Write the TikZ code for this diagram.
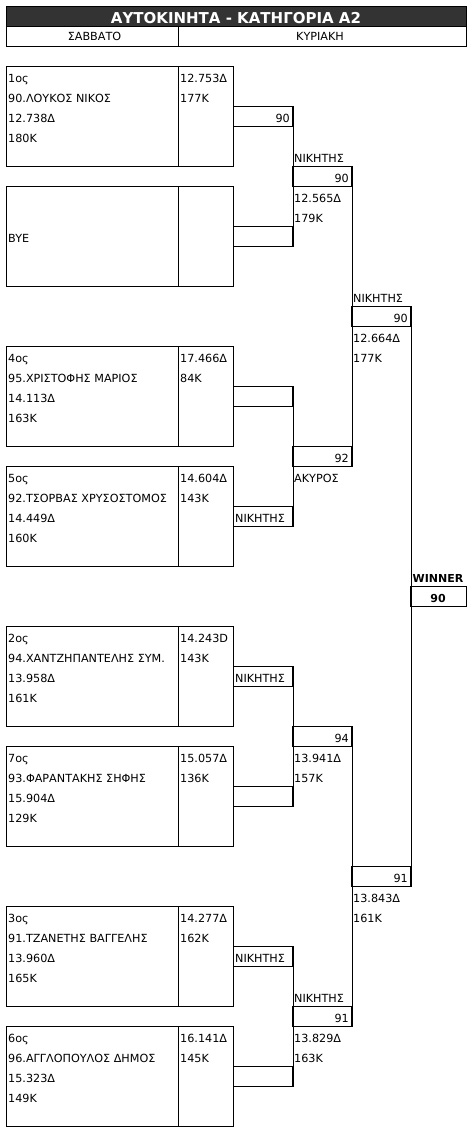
\documentclass[tikz,border=0pt]{standalone}
\usepackage{fontspec}
\newfontfamily\tah{DejaVu Sans}
\definecolor{titlebg}{RGB}{51,51,51}
\tikzset{
  cellbox/.style={draw, line width=1pt, inner sep=0pt, anchor=north west},
  lt/.style={font=\tah\fontsize{11.2}{13}\selectfont, inner sep=0pt, anchor=base west, text=black},
  rt/.style={lt, anchor=base east},
  ct/.style={lt, anchor=base},
  bt/.style={ct, font=\tah\bfseries\fontsize{11}{13}\selectfont},
  wire/.style={line width=1pt},
}
\newcommand\rowy[1]{66+20*(#1)}
\newcommand\bl{16.8}
\newcommand\player[8]{%
  \node[cellbox, minimum width=172pt, minimum height=100pt] (#1A) at (6,{\rowy{#2}}) {};
  \node[cellbox, minimum width=55pt, minimum height=100pt] (#1B) at (178,{\rowy{#2}}) {};
  \node[lt] (#1a1) at (8,{\rowy{#2}+\bl}) {#3};
  \node[lt] (#1a2) at (8,{\rowy{#2+1}+\bl}) {#4};
  \node[lt] (#1a3) at (8,{\rowy{#2+2}+\bl}) {#5};
  \node[lt] (#1a4) at (8,{\rowy{#2+3}+\bl}) {#6};
  \node[lt] (#1b1) at (180,{\rowy{#2}+\bl}) {#7};
  \node[lt] (#1b2) at (180,{\rowy{#2+1}+\bl}) {#8};
}
% connector cell in column C, D, E
\newcommand\ccell[3]{\node[cellbox, minimum width=59pt, minimum height=20pt] (#1) at (#2,{\rowy{#3}}) {};}
\begin{document}
\begin{tikzpicture}[x=1pt,y=-1pt]
\useasboundingbox (0,0) rectangle (473,1134);
% title
\node[cellbox, fill=titlebg, minimum width=460pt, minimum height=20pt] (title) at (6,6) {};
\node[anchor=base, inner sep=0pt, text=white, font=\tah\bfseries\fontsize{15}{18}\selectfont] (titletext) at (236,23.5) {ΑΥΤΟΚΙΝΗΤΑ - ΚΑΤΗΓΟΡΙΑ Α2};
% header
\node[cellbox, minimum width=172pt, minimum height=20pt] (hsat) at (6,26) {};
\node[cellbox, minimum width=288pt, minimum height=20pt] (hsun) at (178,26) {};
\node[ct] (hsatt) at (94.5,40.5) {ΣΑΒΒΑΤΟ};
\node[ct] (hsunt) at (320,40.5) {ΚΥΡΙΑΚΗ};
% players
\player{p1}{0}{1ος}{90.ΛΟΥΚΟΣ ΝΙΚΟΣ}{12.738Δ}{180K}{12.753Δ}{177K}
\player{p2}{6}{}{}{BYE}{}{}{}
\player{p3}{14}{4ος}{95.ΧΡΙΣΤΟΦΗΣ ΜΑΡΙΟΣ}{14.113Δ}{163K}{17.466Δ}{84K}
\player{p4}{20}{5ος}{92.ΤΣΟΡΒΑΣ ΧΡΥΣΟΣΤΟΜΟΣ}{14.449Δ}{160K}{14.604Δ}{143K}
\player{p5}{28}{2ος}{94.ΧΑΝΤΖΗΠΑΝΤΕΛΗΣ ΣΥΜ.}{13.958Δ}{161K}{14.243D}{143K}
\player{p6}{34}{7ος}{93.ΦΑΡΑΝΤΑΚΗΣ ΣΗΦΗΣ}{15.904Δ}{129K}{15.057Δ}{136K}
\player{p7}{42}{3ος}{91.ΤΖΑΝΕΤΗΣ ΒΑΓΓΕΛΗΣ}{13.960Δ}{165K}{14.277Δ}{162K}
\player{p8}{48}{6ος}{96.ΑΓΓΛΟΠΟΥΛΟΣ ΔΗΜΟΣ}{15.323Δ}{149K}{16.141Δ}{145K}
% column C cells
\ccell{c1}{233}{2}
\ccell{c2}{233}{8}
\ccell{c3}{233}{16}
\ccell{c4}{233}{22}
\ccell{c5}{233}{30}
\ccell{c6}{233}{36}
\ccell{c7}{233}{44}
\ccell{c8}{233}{50}
\node[rt] (c1t) at (290,{\rowy{2}+\bl}) {90};
\node[lt] (c4t) at (235,{\rowy{22}+\bl}) {ΝΙΚΗΤΗΣ};
\node[lt] (c5t) at (235,{\rowy{30}+\bl}) {ΝΙΚΗΤΗΣ};
\node[lt] (c7t) at (235,{\rowy{44}+\bl}) {ΝΙΚΗΤΗΣ};
\draw[wire] (c1.north east) -- (c2.south east);
\draw[wire] (c3.north east) -- (c4.south east);
\draw[wire] (c5.north east) -- (c6.south east);
\draw[wire] (c7.north east) -- (c8.south east);
% column D cells
\ccell{d1}{292}{5}
\ccell{d2}{292}{19}
\ccell{d3}{292}{33}
\ccell{d4}{292}{47}
\node[lt] (d1l) at (294,{\rowy{4}+\bl}) {ΝΙΚΗΤΗΣ};
\node[rt] (d1t) at (349,{\rowy{5}+\bl}) {90};
\node[lt] (d1a) at (294,{\rowy{6}+\bl}) {12.565Δ};
\node[lt] (d1b) at (294,{\rowy{7}+\bl}) {179K};
\node[rt] (d2t) at (349,{\rowy{19}+\bl}) {92};
\node[lt] (d2a) at (294,{\rowy{20}+\bl}) {ΑΚΥΡΟΣ};
\node[rt] (d3t) at (349,{\rowy{33}+\bl}) {94};
\node[lt] (d3a) at (294,{\rowy{34}+\bl}) {13.941Δ};
\node[lt] (d3b) at (294,{\rowy{35}+\bl}) {157K};
\node[lt] (d4l) at (294,{\rowy{46}+\bl}) {ΝΙΚΗΤΗΣ};
\node[rt] (d4t) at (349,{\rowy{47}+\bl}) {91};
\node[lt] (d4a) at (294,{\rowy{48}+\bl}) {13.829Δ};
\node[lt] (d4b) at (294,{\rowy{49}+\bl}) {163K};
\draw[wire] (d1.north east) -- (d2.south east);
\draw[wire] (d3.north east) -- (d4.south east);
% column E cells
\ccell{e1}{351}{12}
\ccell{e2}{351}{40}
\node[lt] (e1l) at (353,{\rowy{11}+\bl}) {ΝΙΚΗΤΗΣ};
\node[rt] (e1t) at (408,{\rowy{12}+\bl}) {90};
\node[lt] (e1a) at (353,{\rowy{13}+\bl}) {12.664Δ};
\node[lt] (e1b) at (353,{\rowy{14}+\bl}) {177K};
\node[rt] (e2t) at (408,{\rowy{40}+\bl}) {91};
\node[lt] (e2a) at (353,{\rowy{41}+\bl}) {13.843Δ};
\node[lt] (e2b) at (353,{\rowy{42}+\bl}) {161K};
\draw[wire] (e1.north east) -- (e2.south east);
% winner
\node[cellbox, minimum width=56pt, minimum height=20pt] (win) at (410,{\rowy{26}}) {};
\node[bt] (winl) at (438,{\rowy{25}+\bl}) {WINNER};
\node[bt] (wint) at (438,{\rowy{26}+\bl}) {90};
\end{tikzpicture}
\end{document}
